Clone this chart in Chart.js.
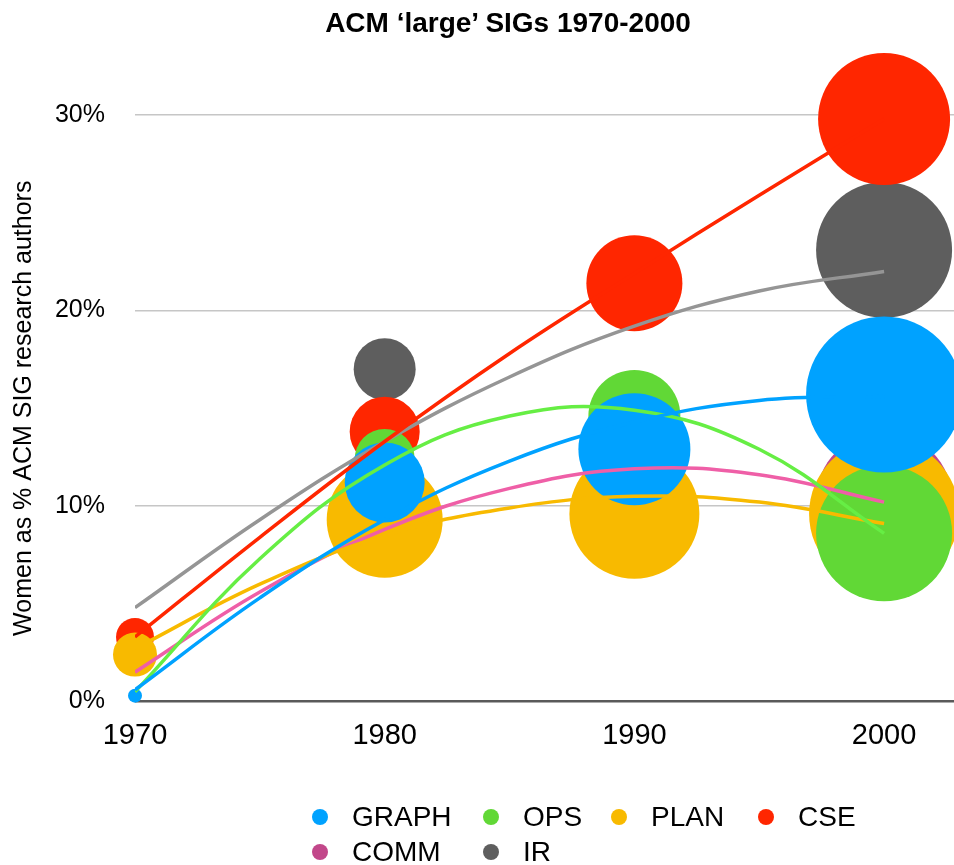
<!DOCTYPE html>
<html>
<head>
<meta charset="utf-8">
<title>ACM 'large' SIGs 1970-2000</title>
<script src="https://cdn.jsdelivr.net/npm/chart.js@4.4.0/dist/chart.umd.min.js"></script>
<style>
  body { margin: 0; background: #fff; }
  #wrap { position: relative; width: 954px; height: 865px; overflow: hidden;
          font-family: "Liberation Sans", Arial, Helvetica, sans-serif; color: #000; }
  #chart { position: absolute; left: 0; top: 0; }
  #title { position: absolute; left: 258px; width: 500px; top: 7px; text-align: center;
           font-weight: bold; font-size: 28px; }
  #legend { position: absolute; left: 312px; top: 799px; display: grid;
            grid-template-columns: 171px 128px 147px auto; font-size: 28px; line-height: 35px; }
  #legend .item { display: flex; align-items: center; white-space: nowrap; }
  #legend .dot { width: 16px; height: 16px; border-radius: 50%; margin-right: 24px; }
</style>
</head>
<body>
<div id="wrap">
  <canvas id="chart" width="954" height="865"></canvas>
  <div id="title">ACM ‘large’ SIGs 1970-2000</div>
  <div id="legend"></div>
</div>
<script>
// data
var years = [1970, 1980, 1990, 2000];
var trendYears = [1970, 1975, 1980, 1985, 1990, 1995, 2000];
var yTicks = [0, 10, 20, 30];
var yTickLabels = ['0%', '10%', '20%', '30%'];
var xTickLabels = ['1970', '1980', '1990', '2000'];

var sigNames = ['GRAPH', 'OPS', 'PLAN', 'CSE', 'COMM', 'IR'];
var bubbleColors = ['#00a2ff', '#61d836', '#f8ba00', '#ff2600', '#c2478a', '#5e5e5e'];
var lineColors = ['#00a2ff', '#66ee44', '#f8ba00', '#ff2600', '#ef5fa7', '#959595'];

// women as % of authors (null = not visible in the picture)
var graphPct = [0.3, 11.2, 12.9, 15.7];
var opsPct   = [null, 12.4, 14.6, 8.6];
var planPct  = [2.4, 9.3, 9.6, 9.6];
var csePct   = [3.3, 13.8, 21.4, 29.8];
var commPct  = [null, null, null, 10.3];
var irPct    = [null, 17.0, null, 23.1];

// bubble sizes (radius)
var graphSize = [7, 40, 56, 78];
var opsSize   = [null, 30, 46, 68];
var planSize  = [22, 58, 65, 75];
var cseSize   = [19, 35, 48, 66];
var commSize  = [null, null, null, 68];
var irSize    = [null, 31, null, 68];

// trend lines, read at trendYears
var graphTrend = [0.6, 5.3, 9.3, 12.3, 14.3, 15.4, 15.6];
var opsTrend   = [0.5, 7.3, 12.1, 14.6, 14.9, 12.9, 8.6];
var planTrend  = [2.7, 6.0, 8.5, 9.9, 10.5, 10.2, 9.1];
var cseTrend   = [3.3, 8.4, 13.3, 17.8, 21.9, 25.9, 29.8];
var commTrend  = [1.5, 5.6, 8.8, 10.9, 11.9, 11.6, 10.2];
var irTrend    = [4.8, 9.3, 13.3, 16.6, 19.2, 21.0, 22.0];

var pcts = [graphPct, opsPct, planPct, csePct, commPct, irPct];
var sizes = [graphSize, opsSize, planSize, cseSize, commSize, irSize];
var trends = [graphTrend, opsTrend, planTrend, cseTrend, commTrend, irTrend];

Chart.defaults.font.family = "'Liberation Sans', Arial, Helvetica, sans-serif";
Chart.defaults.color = '#000';

var datasets = [];
for (var i = 0; i < sigNames.length; i++) {
    var pts = [];
    for (var j = 0; j < years.length; j++) {
        if (pcts[i][j] != null) pts.push({x: years[j], y: pcts[i][j], r: sizes[i][j]});
    }
    datasets.push({
        type: 'bubble',
        label: sigNames[i],
        data: pts,
        backgroundColor: bubbleColors[i],
        borderWidth: 0,
        clip: false,
        order: 1
    });
}
for (var i = 0; i < sigNames.length; i++) {
    var line = [];
    for (var j = 0; j < trendYears.length; j++) {
        line.push({x: trendYears[j], y: trends[i][j]});
    }
    datasets.push({
        type: 'line',
        label: sigNames[i] + ' trend',
        data: line,
        borderColor: lineColors[i],
        borderWidth: 3.5,
        pointRadius: 0,
        tension: 0.4,
        fill: false,
        order: 0
    });
}

var ctx = document.getElementById('chart').getContext('2d');
var chart = new Chart(ctx, {
    type: 'bubble',
    data: { datasets: datasets },
    options: {
        responsive: false,
        animation: false,
        layout: { autoPadding: false, padding: { top: 115, right: 0, bottom: 0, left: 0 } },
        plugins: {
            legend: { display: false },
            tooltip: { enabled: false },
            title: { display: false }
        },
        scales: {
            x: {
                type: 'linear',
                min: 1970,
                max: 2002.8,
                afterBuildTicks: function(s) { s.ticks = years.map(function(v){ return {value: v}; }); },
                afterFit: function(s) { s.height = 163.5; },
                grid: { display: false, drawTicks: false },
                border: { display: false },
                ticks: {
                    padding: 17,
                    font: { size: 29 },
                    callback: function(v, idx) { return xTickLabels[idx]; }
                }
            },
            y: {
                type: 'linear',
                min: 0,
                max: 30,
                afterBuildTicks: function(s) { s.ticks = yTicks.map(function(v){ return {value: v}; }); },
                afterFit: function(s) { s.width = 135; },
                grid: {
                    drawTicks: false,
                    color: function(c) { return c.tick && c.tick.value === 0 ? '#5a5a5a' : '#c6c6c6'; },
                    lineWidth: function(c) { return c.tick && c.tick.value === 0 ? 2.5 : 1.5; }
                },
                border: { display: false },
                ticks: {
                    padding: 30,
                    font: { size: 25 },
                    callback: function(v, idx) { return yTickLabels[idx]; }
                },
                title: {
                    display: true,
                    text: 'Women as % ACM SIG research authors',
                    font: { size: 25 },
                    padding: { top: 9, bottom: 0 }
                }
            }
        }
    }
});

// legend below the plot
var legend = document.getElementById('legend');
for (var i = 0; i < sigNames.length; i++) {
    var item = document.createElement('span');
    item.className = 'item';
    var dot = document.createElement('span');
    dot.className = 'dot';
    dot.style.background = bubbleColors[i];
    item.appendChild(dot);
    item.appendChild(document.createTextNode(sigNames[i]));
    legend.appendChild(item);
}
</script>
</body>
</html>
